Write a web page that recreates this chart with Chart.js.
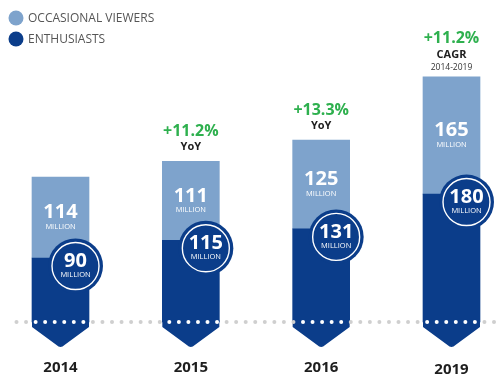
<!DOCTYPE html>
<html>
<head>
<meta charset="utf-8">
<script src="https://cdn.jsdelivr.net/npm/chart.js@4"></script>
<style>
    body { margin: 0; background: #fff; }
    #wrap { width: 501px; height: 392px; position: relative; }
</style>
</head>
<body>
<div id="wrap"><canvas id="viewersChart"></canvas></div>
<script>
const years = ['2014', '2015', '2016', '2019'];
const enthusiasts = [90, 115, 131, 180];
const occasional = [114, 111, 125, 165];
const growth = ['', '+11.2%', '+13.3%', '+11.2%'];
const growthKind = ['', 'YoY', 'YoY', 'CAGR'];
const growthSpan = ['', '', '', '2014-2019'];

const DARK = '#0b3d8a';
const LIGHT = '#7ea3cc';
const FONT = '"Open Sans", sans-serif';

/**
 * Draws the arrow tips, dotted baseline, value circles, labels and legend
 */
const decor = {
    id: 'decor',
    beforeDatasetsDraw(chart) {
        const ctx = chart.ctx;
        const meta = chart.getDatasetMeta(0);
        ctx.save();
        ctx.fillStyle = DARK;
        meta.data.forEach((bar) => {
            const { x, width, base } = bar.getProps(['x', 'width', 'base'], true);
            const l = x - width / 2;
            const r = x + width / 2;
            ctx.beginPath();
            ctx.moveTo(l, base - 2);
            ctx.lineTo(r, base - 2);
            ctx.lineTo(r, base + 5);
            ctx.lineTo(x + 4, base + 23);
            ctx.quadraticCurveTo(x, base + 27, x - 4, base + 23);
            ctx.lineTo(l, base + 5);
            ctx.closePath();
            ctx.fill();
        });
        ctx.restore();
    },
    afterDatasetsDraw(chart) {
        const ctx = chart.ctx;
        const dark = chart.getDatasetMeta(0).data;
        const light = chart.getDatasetMeta(1).data;
        const baseY = chart.scales.y.getPixelForValue(0);
        ctx.save();

        // dotted baseline
        const spans = dark.map((b) => [b.x - b.width / 2, b.x + b.width / 2]);
        for (let x = 16.5; x < 500; x += 9.55) {
            const onBar = spans.some((s) => x > s[0] + 1 && x < s[1] - 1);
            ctx.fillStyle = onBar ? '#ffffff' : '#cfcfcf';
            ctx.beginPath();
            ctx.arc(x, baseY, 2, 0, Math.PI * 2);
            ctx.fill();
        }

        ctx.textAlign = 'center';
        ctx.textBaseline = 'middle';
        years.forEach((year, i) => {
            const d = dark[i];
            const l = light[i];

            // occasional viewers label
            const mid = (l.y + l.base) / 2;
            ctx.fillStyle = '#ffffff';
            ctx.font = 'bold 20px ' + FONT;
            ctx.fillText(String(occasional[i]), l.x, mid - 5);
            ctx.font = '7.5px ' + FONT;
            ctx.fillText('MILLION', l.x, mid + 9);

            // enthusiasts circle
            const cx = d.x + 15;
            const cy = d.y + 8;
            ctx.fillStyle = DARK;
            ctx.beginPath();
            ctx.arc(cx, cy, 27.5, 0, Math.PI * 2);
            ctx.fill();
            ctx.strokeStyle = '#ffffff';
            ctx.lineWidth = 1.4;
            ctx.beginPath();
            ctx.arc(cx, cy, 23.5, 0, Math.PI * 2);
            ctx.stroke();
            ctx.fillStyle = '#ffffff';
            ctx.font = 'bold 20px ' + FONT;
            ctx.fillText(String(enthusiasts[i]), cx, cy - 5);
            ctx.font = '7.5px ' + FONT;
            ctx.fillText('MILLION', cx, cy + 9);

            // growth annotation
            if (growth[i]) {
                const shift = growthSpan[i] ? 8 : 0;
                ctx.fillStyle = '#2eb04e';
                ctx.font = 'bold 16px ' + FONT;
                ctx.fillText(growth[i], l.x, l.y - 30 - shift);
                ctx.fillStyle = '#1e1e1e';
                ctx.font = 'bold 11px ' + FONT;
                ctx.fillText(growthKind[i], l.x, l.y - 14 - shift);
                if (growthSpan[i]) {
                    ctx.fillStyle = '#333';
                    ctx.font = '8.5px ' + FONT;
                    ctx.fillText(growthSpan[i], l.x, l.y - 9);
                }
            }

            // year label
            ctx.fillStyle = '#1e1e1e';
            ctx.font = 'bold 15px ' + FONT;
            ctx.fillText(year, d.x, baseY + 46 + (i === 3 ? 2 : 0));
        });

        // legend
        const items = [chart.data.datasets[1], chart.data.datasets[0]];
        ctx.textAlign = 'left';
        items.forEach((ds, k) => {
            const y = 18 + k * 21;
            ctx.fillStyle = ds.backgroundColor;
            ctx.beginPath();
            ctx.arc(16, y, 7.5, 0, Math.PI * 2);
            ctx.fill();
            ctx.fillStyle = '#555';
            ctx.font = '12px ' + FONT;
            ctx.fillText(ds.label.toUpperCase(), 28, y + 1);
        });
        ctx.restore();
    },
};

new Chart('viewersChart', {
    type: 'bar',
    data: {
        labels: years,
        datasets: [
            {
                label: 'Enthusiasts',
                data: enthusiasts,
                backgroundColor: DARK,
                barThickness: 57,
                clip: false,
            },
            {
                label: 'Occasional viewers',
                data: occasional,
                backgroundColor: LIGHT,
                barThickness: 57,
                clip: false,
            },
        ],
    },
    options: {
        responsive: true,
        maintainAspectRatio: false,
        animation: false,
        layout: {
            padding: { top: 0, bottom: 70, left: 60.5, right: 49.5 },
        },
        plugins: {
            legend: { display: false },
            tooltip: { enabled: false },
        },
        scales: {
            x: { display: false, stacked: true, offset: false },
            y: { display: false, stacked: true, min: 0, max: 453 },
        },
    },
    plugins: [decor],
});
</script>
</body>
</html>
